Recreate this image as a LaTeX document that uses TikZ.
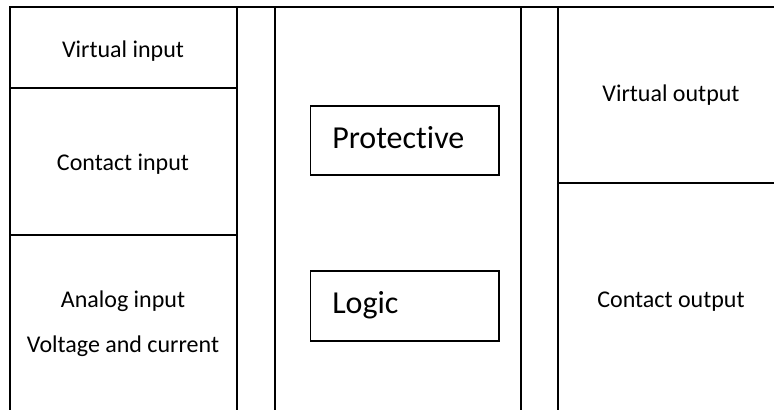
\documentclass[tikz,border=0pt]{standalone}
\usepackage{fontspec}
\setmainfont{Carlito}[Ligatures=NoCommon]
\begin{document}
\begin{tikzpicture}[x=0.75pt,y=-0.75pt,
  rule/.style={line width=1.5pt,black},
  boxline/.style={line width=1.4pt,black},
  small/.style={font=\fontsize{18}{22}\selectfont,inner sep=0pt,anchor=base},
  big/.style={font=\fontsize{24}{29}\selectfont,inner sep=0pt,anchor=base west}]
\useasboundingbox (0,0) rectangle (774,410);
% frame lines
\draw[rule] (10,410) -- (10,7) -- (774,7);
\draw[rule] (237,7) -- (237,410);
\draw[rule] (275,7) -- (275,410);
\draw[rule] (521,7) -- (521,410);
\draw[rule] (557.5,7) -- (557.5,410);
\draw[rule] (10,88) -- (237,88);
\draw[rule] (10,234.5) -- (237,234.5);
\draw[rule] (557.5,183) -- (774,183);
% inner boxes
\draw[boxline] (310.5,106) rectangle (499,175);
\draw[boxline] (310.5,271) rectangle (499,341);
% texts
\node[small] (vin) at (123,57.5) {Virtual input};
\node[small] (cin) at (123,170) {Contact input};
\node[small] (ain) at (123,307.5) {Analog input};
\node[small] (vc) at (123,352.5) {Voltage and current};
\node[small] (vout) at (671,101.5) {Virtual output};
\node[small] (cout) at (671,307.5) {Contact output};
\node[big] (prot) at (332,148) {Protective};
\node[big] (logic) at (332,313) {Logic};
\end{tikzpicture}
\end{document}
